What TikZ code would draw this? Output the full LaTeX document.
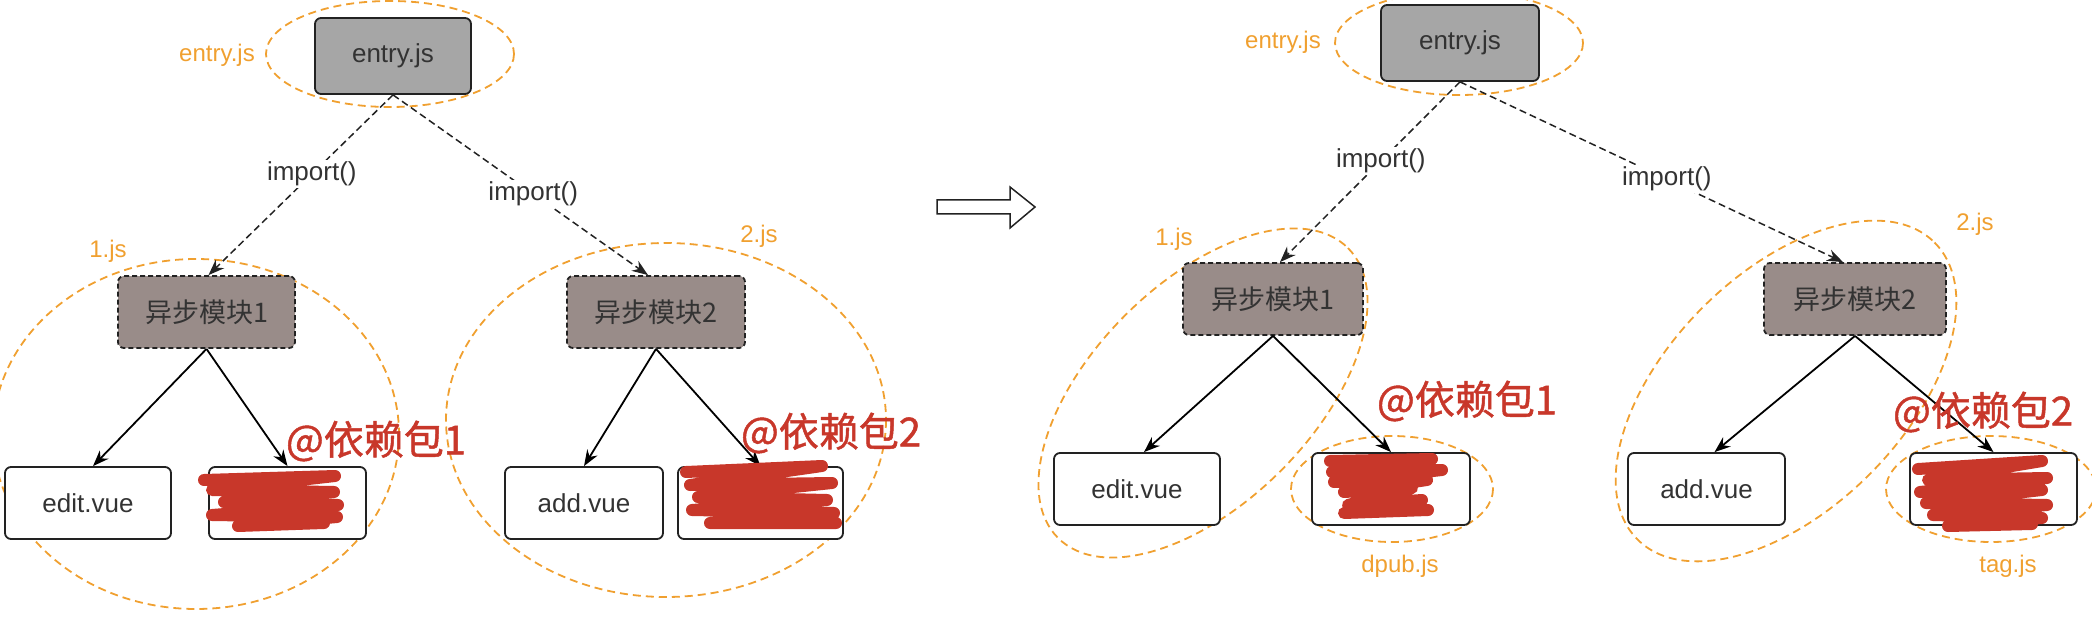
\documentclass[tikz,border=0pt]{standalone}
\usepackage{fontspec}
\setmainfont{Liberation Sans}
\newfontfamily\cjk{Noto Sans CJK SC}
\newfontfamily\cjkheavy{Noto Sans CJK SC}[FakeBold=1.2]
\usetikzlibrary{arrows.meta}
\definecolor{og}{HTML}{F0A030}
\definecolor{rd}{HTML}{C8372A}
\definecolor{entryfill}{HTML}{A6A6A6}
\definecolor{asyncfill}{HTML}{998C89}
\definecolor{ink}{HTML}{222222}
\definecolor{txt}{HTML}{333333}
\begin{document}
\begin{tikzpicture}[x=1pt,y=-1pt,
  base/.style={draw=ink, line width=1.8pt, rounded corners=6pt, inner sep=0pt, text=txt,
    font=\fontsize{26}{31}\selectfont, minimum height=72pt},
  entrybox/.style={base, fill=entryfill, minimum height=76pt},
  asyncbox/.style={base, fill=asyncfill, dash pattern=on 5pt off 3pt, font=\cjk\fontsize{27}{32}\selectfont},
  filebox/.style={base, fill=white},
  grp/.style={draw=og, line width=1.8pt, dash pattern=on 8pt off 5pt},
  grplabel/.style={text=og, font=\fontsize{24}{28}\selectfont, inner sep=0pt},
  pkglabel/.style={text=rd, font=\cjkheavy\fontsize{40}{46}\selectfont, inner sep=0pt},
  lazy/.style={draw=ink, line width=1.5pt, dash pattern=on 7pt off 4pt, -{Stealth[length=16pt,width=12pt]}},
  dep/.style={draw=black, line width=1.8pt, -{Stealth[length=16pt,width=12pt]}},
  implabel/.style={fill=white, text=txt, font=\fontsize{26}{31}\selectfont, inner sep=2pt},
  scrib/.style={draw=rd, line width=12pt, line cap=round, line join=round},
]
\useasboundingbox (0,0) rectangle (2092,628);

% ---------------- left diagram ----------------
\draw[grp] (390,54) ellipse [x radius=124, y radius=53];
\draw[grp] (196,434) ellipse [x radius=203, y radius=175];
\draw[grp] (666,420) ellipse [x radius=220, y radius=177];

\node[entrybox, minimum width=156pt] (e1) at (393,56) {entry.js};
\node[asyncbox, minimum width=177pt] (a1) at (206.5,312) {异步模块1};
\node[asyncbox, minimum width=178pt] (a2) at (656,312) {异步模块2};
\node[filebox, minimum width=166pt] (v1) at (88,503) {edit.vue};
\node[filebox, minimum width=157pt] (d1) at (287.5,503) {};
\node[filebox, minimum width=158pt] (v2) at (584,503) {add.vue};
\node[filebox, minimum width=165pt] (t1) at (760.5,503) {};

\node[grplabel] (l1) at (217,55) {entry.js};
\node[grplabel] (l2) at (108,251) {1.js};
\node[grplabel] (l3) at (759,236) {2.js};

\draw[lazy] (e1.south) -- node[implabel, pos=0.44] {import()} ([xshift=2pt]a1.north);
\draw[lazy] (e1.south) -- node[implabel, pos=0.55] {import()} ([xshift=-8pt]a2.north);
\draw[dep] (a1.south) -- ([xshift=5pt]v1.north);
\draw[dep] (a1.south) -- (d1.north);
\draw[dep] (a2.south) -- (v2.north);
\draw[dep] (a2.south) -- (t1.north);

\draw[scrib] (204,480) -- (335,476) -- (212,490) -- (334,492) -- (224,502) -- (338,505) -- (212,515) -- (337,517) -- (238,526) -- (324,523);
\draw[scrib] (686,472) -- (822,466) -- (690,485) -- (832,483) -- (698,497) -- (827,500) -- (692,510) -- (834,513) -- (710,523) -- (836,523);

\node[pkglabel] (p1) at (376,441) {@依赖包1};
\node[pkglabel] (p2) at (831,433) {@依赖包2};

% ---------------- transition arrow ----------------
\draw[ink, line width=1.5pt] (937,200) -- (1010,200) -- (1010,187) -- (1035,207) -- (1010,228) -- (1010,214) -- (937,214) -- cycle;

% ---------------- right diagram ----------------
\draw[grp] (1459,43) ellipse [x radius=124, y radius=52];
\draw[grp, rotate around={45:(1203,393)}] (1203,393) ellipse [x radius=205, y radius=110];
\draw[grp, rotate around={45:(1786,391)}] (1786,391) ellipse [x radius=210, y radius=118];
\draw[grp] (1392,489) ellipse [x radius=101, y radius=53];
\draw[grp] (1991,489) ellipse [x radius=105, y radius=53];

\node[entrybox, minimum width=158pt] (e2) at (1460,43) {entry.js};
\node[asyncbox, minimum width=180pt] (b1) at (1273,299) {异步模块1};
\node[asyncbox, minimum width=182pt] (b2) at (1855,299) {异步模块2};
\node[filebox, minimum width=166pt] (w1) at (1137,489) {edit.vue};
\node[filebox, minimum width=158pt] (d2) at (1391,489) {};
\node[filebox, minimum width=157pt] (w2) at (1706.5,489) {add.vue};
\node[filebox, minimum width=167pt] (t2) at (1993.5,489) {};

\node[grplabel] (r1) at (1283,42) {entry.js};
\node[grplabel] (r2) at (1174,239) {1.js};
\node[grplabel] (r3) at (1975,224) {2.js};
\node[grplabel] (r4) at (1400,566) {dpub.js};
\node[grplabel] (r5) at (2008,566) {tag.js};

\draw[lazy] (e2.south) -- node[implabel, pos=0.44] {import()} ([xshift=7pt]b1.north);
\draw[lazy] (e2.south) -- node[implabel, pos=0.54] {import()} ([xshift=-12pt]b2.north);
\draw[dep] (b1.south) -- ([xshift=7pt]w1.north);
\draw[dep] (b1.south) -- (d2.north);
\draw[dep] (b2.south) -- ([xshift=8pt]w2.north);
\draw[dep] (b2.south) -- (t2.north);

\draw[scrib] (1330,461) -- (1432,459) -- (1332,472) -- (1442,470) -- (1334,482) -- (1427,480) -- (1344,492) -- (1412,488) -- (1348,505) -- (1422,500) -- (1344,513) -- (1428,510);
\draw[scrib] (1918,469) -- (2042,461) -- (1928,480) -- (2047,478) -- (1920,492) -- (2042,490) -- (1926,503) -- (2047,505) -- (1933,515) -- (2042,518) -- (1948,526) -- (2032,524);

\node[pkglabel] (q1) at (1467,401) {@依赖包1};
\node[pkglabel] (q2) at (1983,412) {@依赖包2};
\end{tikzpicture}
\end{document}
